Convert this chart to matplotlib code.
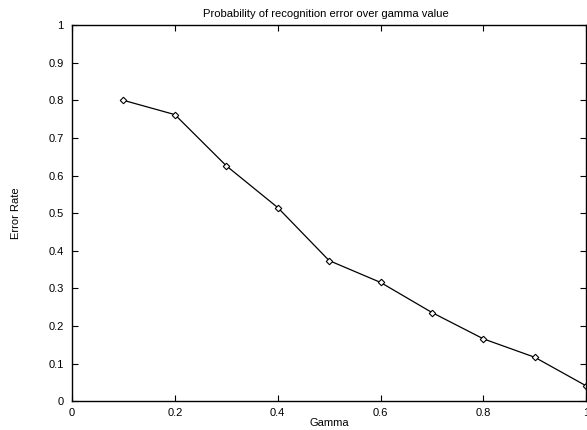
import matplotlib
matplotlib.use("Agg")
import matplotlib.pyplot as plt

plt.rcParams['font.family'] = ['Liberation Sans', 'DejaVu Sans']

gamma = [0.1, 0.2, 0.3, 0.4, 0.5, 0.6, 0.7, 0.8, 0.9, 1.0]
error_rate = [0.800, 0.762, 0.626, 0.515, 0.374, 0.316, 0.236, 0.166, 0.117, 0.041]
xticks = [0, 0.2, 0.4, 0.6, 0.8, 1]
yticks = [0, 0.1, 0.2, 0.3, 0.4, 0.5, 0.6, 0.7, 0.8, 0.9, 1]

fig = plt.figure(figsize=(5.87, 4.30), dpi=100)
ax = fig.add_axes([0.1227, 0.0667, 0.876, 0.875])

ax.plot(gamma, error_rate, color='black', linewidth=0.9, marker='D',
        markersize=3.3, markerfacecolor='white', markeredgecolor='black',
        markeredgewidth=0.8)

ax.set_xlim(0, 1)
ax.set_ylim(0, 1)
ax.set_xticks(xticks)
ax.set_xticklabels(['0', '0.2', '0.4', '0.6', '0.8', '1'])
ax.set_yticks(yticks)
ax.set_yticklabels(['0', '0.1', '0.2', '0.3', '0.4', '0.5', '0.6', '0.7', '0.8', '0.9', '1'])
ax.tick_params(direction='in', top=True, right=True, length=4, width=0.8,
               labelsize=8, pad=4.5)
ax.tick_params(axis='y', pad=6)
for s in ax.spines.values():
    s.set_linewidth(1.0)

ax.set_xlabel('Gamma', fontsize=8, labelpad=0)
ax.set_ylabel('Error Rate', fontsize=8, labelpad=20)
ax.set_title('Probability of recognition error over gamma value', fontsize=8.1,
             pad=6, x=0.493)

fig.savefig('out.png', dpi=100)
